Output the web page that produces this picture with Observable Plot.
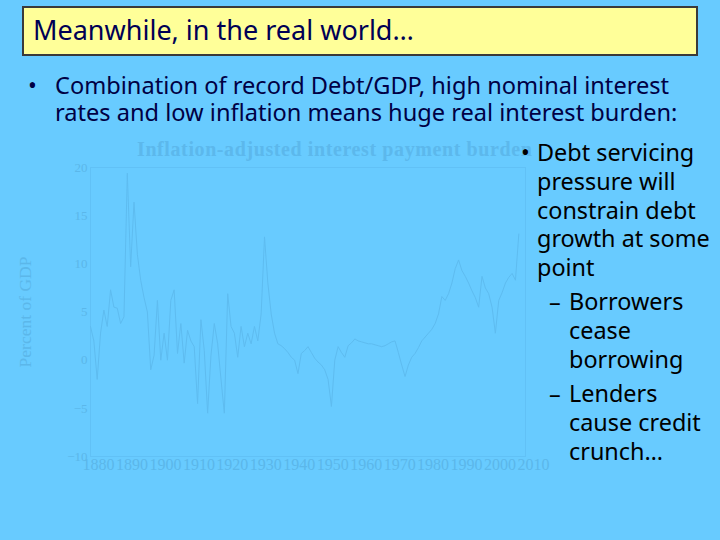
<!DOCTYPE html>
<html>
<head>
<meta charset="utf-8">
<script src="https://cdn.jsdelivr.net/npm/d3@7"></script>
<script src="https://cdn.jsdelivr.net/npm/@observablehq/plot@0.6"></script>
<style>
  html, body { margin:0; padding:0; }
  body { width:720px; height:540px; background:#68cbff; position:relative; overflow:hidden; }
  .abs { position:absolute; white-space:nowrap; }
  #titlebox { left:22px; top:6px; width:672px; height:46px; background:#ffff99; border:2px solid #3a3a3a; }
  #title { left:33px; top:13px; font-family:"Noto Sans", sans-serif; font-size:27px; color:#000055; line-height:34px; }
  .b1 { font-family:"Noto Sans", sans-serif; font-size:23.6px; color:#000044; line-height:27px; }
  .b2 { font-family:"Noto Sans", sans-serif; font-size:23.4px; color:#000000; line-height:28.8px; }
  #ctitle { left:137px; top:138px; font-family:"Liberation Serif", serif; font-weight:bold; font-size:20px; letter-spacing:0.6px; color:#5cb8ec; }
  #chart { left:0; top:135px; }
</style>
</head>
<body>
<div id="titlebox" class="abs"></div>
<div id="title" class="abs">Meanwhile, in the real world…</div>

<div class="abs b1" style="left:28px;top:72px;">•</div>
<div class="abs b1" style="left:55px;top:72px;">Combination of record Debt/GDP, high nominal interest<br>rates and low inflation means huge real interest burden:</div>

<div id="ctitle" class="abs">Inflation-adjusted interest payment burden</div>
<div id="chart" class="abs"></div>

<div class="abs b2" style="left:521px;top:138px;">•</div>
<div class="abs b2" style="left:537px;top:138px;">Debt servicing<br>pressure will<br>constrain debt<br>growth at some<br>point</div>
<div class="abs b2" style="left:549px;top:287px;">–</div>
<div class="abs b2" style="left:569px;top:287px;">Borrowers<br>cease<br>borrowing</div>
<div class="abs b2" style="left:549px;top:379px;">–</div>
<div class="abs b2" style="left:569px;top:379px;">Lenders<br>cause credit<br>crunch…</div>

<script>
const years = [
  1880,1881,1882,1883,1884,1885,1886,1887,1888,1889,
  1890,1891,1892,1893,1894,1895,1896,1897,1898,1899,
  1900,1901,1902,1903,1904,1905,1906,1907,1908,1909,
  1910,1911,1912,1913,1914,1915,1916,1917,1918,1919,
  1920,1921,1922,1923,1924,1925,1926,1927,1928,1929,
  1930,1931,1932,1933,1934,1935,1936,1937,1938,1939,
  1940,1941,1942,1943,1944,1945,1946,1947,1948,1949,
  1950,1951,1952,1953,1954,1955,1956,1957,1958,1959,
  1960,1961,1962,1963,1964,1965,1966,1967,1968,1969,
  1970,1971,1972,1973,1974,1975,1976,1977,1978,1979,
  1980,1981,1982,1983,1984,1985,1986,1987,1988,1989,
  1990,1991,1992,1993,1994,1995,1996,1997,1998,1999,
  2000,2001,2002,2003,2004,2005,2006,2007,2008
];
const burden = [
  3.5, 2.0, -2.0, 2.8, 5.2, 3.5, 7.3, 5.5, 5.4, 3.8,
  4.5, 19.4, 9.7, 16.4, 11.0, 8.3, 6.5, 5.0, -1.0, 0.5,
  6.2, 0.0, 2.8, 0.0, 6.2, 7.3, 0.7, 3.8, -0.3, 3.1,
  2.0, 1.4, -4.5, 4.2, 1.0, -5.5, 0.5, 3.8, 1.7, -2.0,
  -5.5, 6.9, 3.5, 2.8, 0.3, 3.5, 1.4, 2.8, 1.7, 3.5,
  2.0, 4.8, 12.8, 8.0, 4.8, 2.8, 1.7, 1.5, 1.2, 0.8,
  0.3, 0.0, -1.4, 0.7, 1.0, 1.4, 0.8, 0.2, -0.2, -0.5,
  -1.0, -2.0, -4.8, 0.0, 1.4, 0.8, 0.3, 1.5, 1.8, 2.2,
  2.0, 1.9, 1.8, 1.7, 1.7, 1.6, 1.5, 1.4, 1.5, 1.7,
  1.9, 2.0, 0.8, -0.5, -1.7, -0.5, 0.3, 0.7, 1.3, 2.0,
  2.4, 2.8, 3.2, 3.8, 4.8, 6.6, 6.2, 6.9, 8.0, 9.5,
  10.4, 9.3, 8.7, 8.0, 7.2, 6.5, 5.5, 8.7, 7.5, 6.9,
  5.5, 2.8, 6.2, 7.0, 8.0, 8.6, 9.0, 8.3, 13.1
];
const xTicks = [1880,1890,1900,1910,1920,1930,1940,1950,1960,1970,1980,1990,2000,2010];
const yTicks = [-10,-5,0,5,10,15,20];
const yLabel = "Percent of GDP";

const data = years.map((y, i) => ({year: y, value: burden[i]}));
const faint = "#5bb7ea";
const lineColor = "#5ebcf0";
const frameColor = "#61c1f6";

const chart = Plot.plot({
  width: 560,
  height: 350,
  marginLeft: 90,
  marginRight: 35,
  marginTop: 32,
  marginBottom: 29,
  style: {background: "transparent", fontFamily: "Liberation Serif, serif", fontSize: "13px", color: faint},
  x: {domain: [1880, 2010], axis: null},
  y: {domain: [-10, 20], ticks: yTicks, tickSize: 0, tickPadding: 3, label: null,
      tickFormat: d => d < 0 ? "\u2212" + Math.abs(d) : String(d)},
  marks: [
    Plot.frame({stroke: frameColor}),
    Plot.line(data, {x: "year", y: "value", stroke: lineColor, strokeWidth: 1}),
    Plot.text(xTicks, {x: d => d, frameAnchor: "bottom", dy: 13, dx: 8, fontSize: 16, fill: faint, text: d => String(d)}),
    Plot.text([yLabel], {frameAnchor: "left", textAnchor: "middle", rotate: -90, dx: -65, fontSize: 17.5, fill: faint})
  ]
});
document.getElementById("chart").appendChild(chart);
</script>
</body>
</html>
